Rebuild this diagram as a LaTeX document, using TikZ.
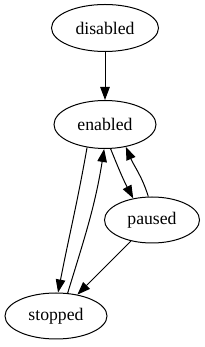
\documentclass[tikz,border=0pt]{standalone}
\usepackage{fontspec}
\setmainfont{Liberation Serif}
\usetikzlibrary{shapes.geometric,arrows.meta,positioning}
\tikzset{
  statenode/.style={ellipse,draw=black,line width=1pt,inner sep=0pt,
                    font=\fontsize{17.7}{20}\selectfont},
  arr/.style={-{Triangle[length=13pt,width=9.5pt]},line width=1pt,color=black}
}
\begin{document}
\begin{tikzpicture}[x=1pt,y=1pt]
  \useasboundingbox (0,0) rectangle (205,347);

  \node[statenode,minimum width=107pt,minimum height=47pt] (disabled) at (105,319) {disabled};
  \node[statenode,minimum width=102pt,minimum height=48pt,below=48pt of disabled] (enabled) {enabled};
  \node[statenode,minimum width=95pt,minimum height=46pt] (paused) at (152,127) {paused};
  \node[statenode,minimum width=102pt,minimum height=46pt] (stopped) at (56,31) {stopped};

  \draw[arr] (disabled) -- (enabled);
  \draw[arr] (enabled.-128) to[out=-100,in=79] (stopped.85);
  \draw[arr] (stopped.63) to[out=73,in=-99] (enabled.-92);
  \draw[arr] (enabled.-77) to[out=-68,in=118] (paused.131);
  \draw[arr] (paused.99) to[out=107,in=-67] (enabled.-47);
  \draw[arr] (paused) -- (stopped);

\end{tikzpicture}
\end{document}
